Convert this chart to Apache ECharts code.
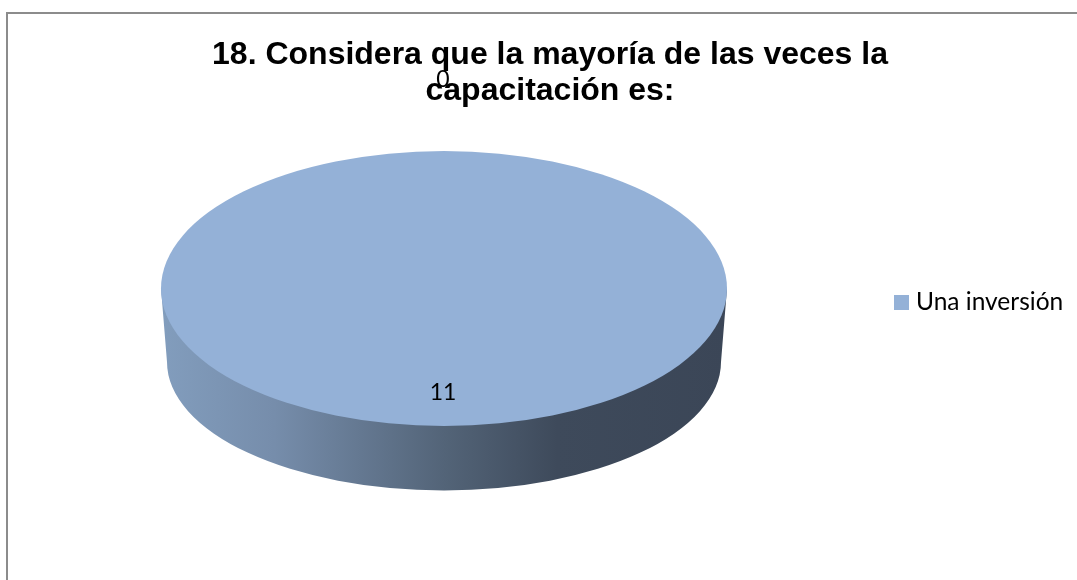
<!DOCTYPE html>
<html lang="es">
<head>
<meta charset="utf-8">
<title>Capacitación</title>
<style>
  html, body { margin: 0; padding: 0; background: #ffffff; }
  #chart { width: 1077px; height: 580px; }
</style>
<script src="https://cdn.jsdelivr.net/npm/echarts@6/dist/echarts.min.js"></script>
</head>
<body>
<div id="chart"></div>
<script>
// Survey answers for question 18
const categories = ['Una inversión', 'Un gasto'];
const values = [11, 0];
const chartTitle = '18. Considera que la mayoría de las veces la\ncapacitación es:';

// Geometry of the tilted disc
const disc = { cx: 444, cy: 288.5, rx: 283, ry: 137.5 };
const base = { cy: 362, rx: 277, ry: 128.5 };
const topColor = '#94b1d7';
const total = values.reduce((a, b) => a + b, 0);

function renderSlice(params, api) {
  const value = api.value(1);
  let before = 0;
  for (let i = 0; i < params.dataIndex; i++) before += values[i];
  const start = -Math.PI / 2 + (before / total) * Math.PI * 2;
  const sweep = (value / total) * Math.PI * 2;
  const mid = start + sweep / 2;
  const children = [];

  if (value > 0) {
    // Rim of the disc, lit from the left
    const left = disc.cx - base.rx, right = disc.cx + base.rx;
    children.push({
      type: 'path',
      shape: {
        pathData:
          `M ${disc.cx - disc.rx} ${disc.cy} L ${left} ${base.cy} ` +
          `A ${base.rx} ${base.ry} 0 0 0 ${right} ${base.cy} ` +
          `L ${disc.cx + disc.rx} ${disc.cy} Z`
      },
      style: {
        fill: new echarts.graphic.LinearGradient(disc.cx - disc.rx, 0, disc.cx + disc.rx, 0, [
          { offset: 0, color: '#829dbd' },
          { offset: 0.2, color: '#768dab' },
          { offset: 0.5, color: '#536478' },
          { offset: 0.7, color: '#3e4a5b' },
          { offset: 1, color: '#3b4657' }
        ], true)
      }
    });
    // Upper face: a pie sector squashed into an ellipse
    children.push({
      type: 'sector',
      x: disc.cx,
      y: disc.cy,
      scaleY: disc.ry / disc.rx,
      shape: { cx: 0, cy: 0, r0: 0, r: disc.rx, startAngle: start, endAngle: start + sweep, clockwise: true },
      style: { fill: topColor }
    });
  }

  // Value label: inside the face for real slices, outside for empty ones
  const reach = value > 0 ? 0.755 : 1.516;
  children.push({
    type: 'text',
    z2: 10,
    x: disc.cx + Math.cos(mid) * disc.rx * reach - 1,
    y: disc.cy + Math.sin(mid) * disc.ry * reach,
    style: {
      text: String(value),
      fill: '#000000',
      font: '23px Lato, Carlito, sans-serif',
      align: 'center',
      verticalAlign: 'middle'
    }
  });
  return { type: 'group', children };
}

const chart = echarts.init(document.getElementById('chart'), null, { renderer: 'canvas' });
chart.setOption({
  animation: false,
  backgroundColor: '#ffffff',
  title: {
    text: chartTitle,
    left: 545,
    top: 32,
    textAlign: 'center',
    textStyle: {
      fontFamily: '"Liberation Sans", Arial, sans-serif',
      fontWeight: 'bold',
      fontSize: 32,
      lineHeight: 36,
      color: '#000000'
    }
  },
  legend: {
    data: [{ name: categories[0], icon: 'rect' }],
    left: 894,
    top: 290,
    itemWidth: 15,
    itemHeight: 15,
    itemGap: 0,
    padding: 0,
    selectedMode: false,
    textStyle: { fontFamily: 'Lato, sans-serif', fontSize: 24.5, color: '#000000', padding: [0, 0, 0, 2] }
  },
  graphic: [{
    type: 'polyline',
    shape: { points: [[7, 580], [7, 13], [1077, 13]] },
    style: { stroke: '#8c8c8c', lineWidth: 2, fill: null }
  }],
  series: [{
    type: 'custom',
    name: categories[0],
    coordinateSystem: 'none',
    itemStyle: { color: topColor },
    data: categories.map((c, i) => [c, values[i]]),
    renderItem: renderSlice
  }]
});
</script>
</body>
</html>
